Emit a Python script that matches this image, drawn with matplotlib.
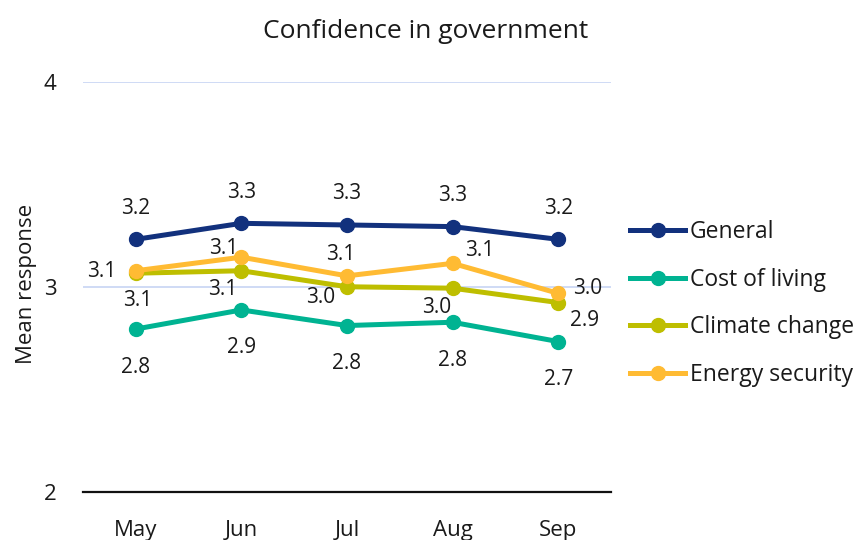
import matplotlib
matplotlib.use("Agg")
import matplotlib.pyplot as plt
from matplotlib.lines import Line2D

plt.rcParams['font.family'] = ['Open Sans', 'DejaVu Sans']

months = ["May", "Jun", "Jul", "Aug", "Sep"]
series_names = ["General", "Cost of living", "Climate change", "Energy security"]
general = [3.231, 3.309, 3.301, 3.293, 3.231]
cost_of_living = [2.794, 2.887, 2.811, 2.827, 2.733]
climate_change = [3.066, 3.078, 3.000, 2.993, 2.923]
energy_security = [3.078, 3.144, 3.053, 3.114, 2.968]
y_ticks = [2, 3, 4]

colors = ["#12317D", "#00B392", "#BEBE00", "#FFBB33"]
text_color = '#1A1A1A'

# per-point label offsets in pixels (dx, dy)
label_offsets = [
    [(0, 31)] * 5,
    [(0, -38)] * 5,
    [(2, -27), (-19, -19), (-26, -11), (-16, -19), (26, -18)],
    [(-34, -1), (-18, 9), (-6, 21), (27, 13), (29, 5)],
]

fig = plt.figure(figsize=(8.54, 5.4), dpi=100)
ax = fig.add_axes([83 / 854, 48 / 540, 528 / 854, 410.5 / 540])

x = list(range(len(months)))
all_series = [general, cost_of_living, climate_change, energy_security]
for vals, color, offs in zip(all_series, colors, label_offsets):
    ax.plot(x, vals, color=color, lw=3.6, marker='o', ms=10,
            solid_capstyle='round', zorder=3)
    for xi, v, (dx, dy) in zip(x, vals, offs):
        ax.annotate(f"{v:.1f}", (xi, v), xytext=(dx, dy),
                    textcoords='offset pixels', ha='center', va='center',
                    fontsize=15, color=text_color, zorder=4)

ax.set_xlim(-0.5, len(months) - 0.5)
ax.set_ylim(2, 4)
ax.set_yticks(y_ticks)
ax.set_xticks(x)
ax.set_xticklabels(months)
ax.tick_params(axis='both', length=0, labelsize=16, colors=text_color)
ax.tick_params(axis='y', pad=19)
ax.tick_params(axis='x', pad=20)
for s in ['top', 'right', 'left']:
    ax.spines[s].set_visible(False)
ax.spines['bottom'].set_color('#111111')
ax.spines['bottom'].set_linewidth(1.6)
for yv in [3, 4]:
    ax.axhline(yv, color='#CFDAF5', lw=1.4, zorder=1)

fig.text(27 / 854, 1 - 284 / 540, "Mean response", rotation=90,
         ha='center', va='center', fontsize=16, color=text_color)

fig.text(426 / 854, 1 - 38 / 540, "Confidence in government",
         ha='center', va='baseline', fontsize=19, color=text_color)

handles = [Line2D([0], [0], color=c, lw=3.6, marker='o', ms=10) for c in colors]
leg = fig.legend(handles, series_names, loc='center left',
                 bbox_to_anchor=(630 / 854, 1 - 303.5 / 540),
                 frameon=False, fontsize=16.5, handlelength=2.4,
                 handletextpad=0.22, borderaxespad=0, borderpad=0,
                 labelspacing=1.02)
for t in leg.get_texts():
    t.set_color(text_color)

fig.savefig("out.png", dpi=100)
